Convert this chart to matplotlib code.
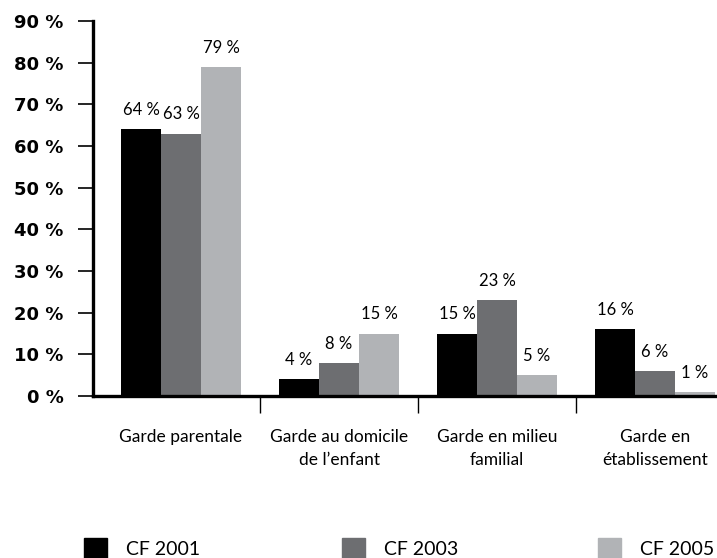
import numpy as np
import matplotlib
matplotlib.use("Agg")
import matplotlib.pyplot as plt
from matplotlib.patches import Patch

categories = ["Garde parentale", "Garde au domicile\nde l\u2019enfant",
              "Garde en milieu\nfamilial", "Garde en\n\u00e9tablissement"]
series = ["CF 2001", "CF 2003", "CF 2005"]
cf2001 = [64, 4, 15, 16]
cf2003 = [63, 8, 23, 6]
cf2005 = [79, 15, 5, 1]
colors = ["#000000", "#6d6e71", "#b1b3b6"]
yticks = [0, 10, 20, 30, 40, 50, 60, 70, 80, 90]

narrow = ["Lato", "DejaVu Sans"]

fig = plt.figure(figsize=(7.17, 5.58), dpi=100)
ax = fig.add_axes([93 / 717, 162 / 558, 624 / 717, 375 / 558])

x = np.arange(len(categories))
w = 0.253
for i, vals in enumerate([cf2001, cf2003, cf2005]):
    bars = ax.bar(x + (i - 1) * w, vals, w, color=colors[i], clip_on=False)
    for b, v in zip(bars, vals):
        ax.annotate(f"{v} %", (b.get_x() + b.get_width() / 2, v),
                    xytext=(0, 8), textcoords="offset points",
                    ha="center", va="bottom", fontsize=12, family=narrow)

ax.set_xlim(-0.557, 3.392)
ax.set_ylim(0, 90)

for s in ["top", "right"]:
    ax.spines[s].set_visible(False)
ax.spines["left"].set_linewidth(2.4)
ax.spines["bottom"].set_linewidth(2.4)

ax.set_yticks(yticks)
ax.set_yticklabels([f"{t} %" for t in yticks], fontsize=13, fontweight="bold")
ax.tick_params(axis="y", direction="out", length=11, width=1.2, pad=10)

ax.set_xticks(x)
ax.set_xticklabels(categories, fontsize=12.5, family=narrow, linespacing=1.5,
                   va="top")
ax.tick_params(axis="x", which="major", length=0, pad=24)
ax.set_xticks(x[:-1] + 0.5, minor=True)
ax.tick_params(axis="x", which="minor", direction="out", length=12, width=1.0)

lx = [84, 342, 598]
for i in range(3):
    fig.legend(handles=[Patch(color=colors[i])], labels=[series[i]],
               loc="lower left", bbox_to_anchor=(lx[i] / 717, 0.0),
               frameon=False, prop={"family": narrow, "size": 14},
               handlelength=1.2, handleheight=1.2, handletextpad=0.95,
               borderpad=0, borderaxespad=0)

fig.savefig("out.png", dpi=100)
